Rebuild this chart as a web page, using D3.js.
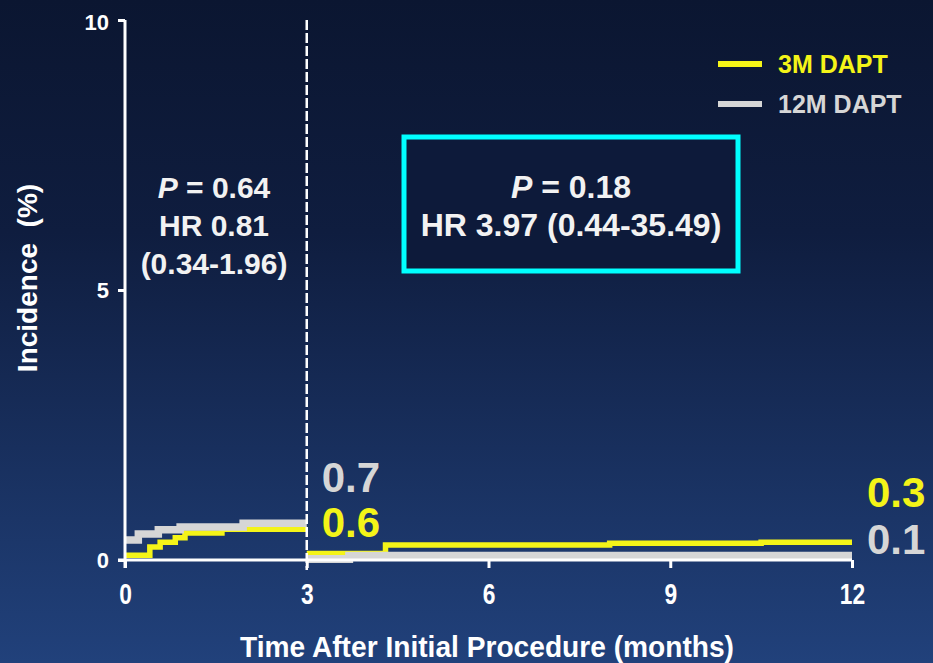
<!DOCTYPE html>
<html><head><meta charset="utf-8">
<script src="https://cdn.jsdelivr.net/npm/d3@7"></script>
<style>
html,body{margin:0;padding:0;background:#0d1a38;}
svg{display:block;}
</style></head>
<body>
<svg id="chart" width="933" height="663"></svg>
<script>
// ---- Data ----
const xTicks = [0, 3, 6, 9, 12];
const yTicks = [0, 5, 10];
// Landmark 0-3 months
const dapt3_early_t = [0, 0.41, 0.58, 0.83, 0.99, 1.6, 3];
const dapt3_early_v = [0.09, 0.24, 0.33, 0.41, 0.50, 0.57, 0.57];
const dapt12_early_t = [0, 0.22, 0.55, 0.91, 1.95, 3];
const dapt12_early_v = [0.37, 0.48, 0.56, 0.61, 0.68, 0.68];
// Landmark 3-12 months
const dapt3_late_t = [3, 4.3, 8, 10.5, 12];
const dapt3_late_v = [0.12, 0.28, 0.31, 0.33, 0.33];
const dapt12_late_t = [3, 3.7, 12];
const dapt12_late_v = [0.02, 0.08, 0.08];
const seriesNames = ["3M DAPT", "12M DAPT"];
const endLabelText = ["0.7", "0.6", "0.3", "0.1"];
const endLabelT = [3, 3, 12, 12];
const endLabelV = [0.68, 0.57, 0.33, 0.08];
const endLabelSeries = [1, 0, 0, 1];
const leftStats = ["P = 0.64", "HR 0.81", "(0.34-1.96)"];
const rightStats = ["P = 0.18", "HR 3.97 (0.44-35.49)"];
const yTitle = "Incidence  (%)";
const xTitle = "Time After Initial Procedure (months)";

const colors = ["#f4f418", "#d6d6d6"];
// pixel offsets of the end labels from their curve ends (layout only)
const endLabelOffsets = [-31, 8, -35, -2];

const svg = d3.select("#chart");
const W = 933, H = 663;

// background gradient
const defs = svg.append("defs");
const grad = defs.append("linearGradient").attr("id", "bg")
  .attr("x1", 0).attr("y1", 0).attr("x2", 0).attr("y2", 1);
grad.append("stop").attr("offset", "0%").attr("stop-color", "#0b1631");
grad.append("stop").attr("offset", "35%").attr("stop-color", "#0f1d3f");
grad.append("stop").attr("offset", "100%").attr("stop-color", "#21417b");
svg.append("rect").attr("width", W).attr("height", H).attr("fill", "url(#bg)");

const x = d3.scaleLinear().domain([0, 12]).range([125, 852]);
const y = d3.scaleLinear().domain([0, 10]).range([560, 20]);

const boldFont = "Arial, 'Liberation Sans', sans-serif";

// curves
const line = d3.line().x(d => x(d[0])).y(d => y(d[1])).curve(d3.curveStepAfter);
function zip(t, v) { return t.map((tt, i) => [tt, v[i]]); }
const curves = [
  {data: zip(dapt3_early_t, dapt3_early_v), s: 0, w: 5.5},
  {data: zip(dapt3_late_t, dapt3_late_v), s: 0, w: 5.5},
  {data: zip(dapt12_early_t, dapt12_early_v), s: 1, w: 7.5},
  {data: zip(dapt12_late_t, dapt12_late_v), s: 1, w: 8}
];
svg.append("g").selectAll("path").data(curves).join("path")
  .attr("d", d => line(d.data))
  .attr("fill", "none")
  .attr("stroke", d => colors[d.s])
  .attr("stroke-width", d => d.w);

// axes
const yAxis = d3.axisLeft(y).tickValues(yTicks).tickSize(7).tickPadding(9).tickFormat(d3.format("d"));
const gy = svg.append("g").attr("transform", `translate(${x(0)},0)`).call(yAxis);
gy.select(".domain").attr("d", `M0,${y(10)}V${y(0) + 8}`);
const xAxis = d3.axisBottom(x).tickValues(xTicks).tickSize(8).tickPadding(15).tickFormat(d3.format("d"));
const gx = svg.append("g").attr("transform", `translate(0,${y(0)})`).call(xAxis);
gx.select(".domain").attr("d", `M${x(0) - 7},0H${x(12)}`);
[gx, gy].forEach(g => {
  g.selectAll(".domain, .tick line").attr("stroke", "#ffffff").attr("stroke-width", 3);
});
gy.selectAll(".tick line").attr("x2", -7);
gy.selectAll("text").attr("fill", "#ffffff").attr("font-family", boldFont)
  .attr("font-weight", "bold").attr("font-size", 22);
gy.select(".tick:last-of-type text").attr("dy", "0.45em");
gx.selectAll("text").attr("fill", "#ffffff").attr("font-family", boldFont)
  .attr("font-weight", "bold").attr("font-size", 30)
  .attr("transform", "scale(0.76,1)");

// dashed landmark line
svg.append("line").attr("x1", x(3)).attr("x2", x(3)).attr("y1", y(10)).attr("y2", y(0) + 10)
  .attr("stroke", "#ffffff").attr("stroke-width", 2.5).attr("stroke-dasharray", "10,3");

// axis titles
svg.append("text").attr("transform", `translate(37,${278}) rotate(-90)`)
  .attr("text-anchor", "middle").attr("fill", "#ffffff")
  .attr("font-family", boldFont).attr("font-weight", "bold").attr("font-size", 28)
  .attr("xml:space", "preserve").style("white-space", "pre")
  .text(yTitle);
svg.append("text").attr("x", 487).attr("y", 657)
  .attr("text-anchor", "middle").attr("fill", "#ffffff")
  .attr("font-family", boldFont).attr("font-weight", "bold").attr("font-size", 30)
  .attr("textLength", 494).attr("lengthAdjust", "spacingAndGlyphs")
  .text(xTitle);

// stat text helper
function statLine(g, str, cx, by, size) {
  const t = g.append("text").attr("x", cx).attr("y", by).attr("text-anchor", "middle")
    .attr("fill", "#f2f2f2").attr("font-family", boldFont).attr("font-weight", "bold")
    .attr("font-size", size);
  if (str.startsWith("P ")) {
    t.append("tspan").attr("font-style", "italic").text("P");
    t.append("tspan").text(str.slice(1));
  } else {
    t.text(str);
  }
}
const gl = svg.append("g");
leftStats.forEach((s, i) => statLine(gl, s, 214, 198 + i * 38, 30));

// right stats box
svg.append("rect").attr("x", 404).attr("y", 137).attr("width", 334).attr("height", 134)
  .attr("fill", "#0d1a3a").attr("stroke", "#00ffff").attr("stroke-width", 5);
const gr = svg.append("g");
rightStats.forEach((s, i) => statLine(gr, s, 571, 198 + i * 38, 32));

// end labels
svg.append("g").selectAll("text").data(endLabelText).join("text")
  .attr("x", (d, i) => x(endLabelT[i]) + 15)
  .attr("y", (d, i) => y(endLabelV[i]) + endLabelOffsets[i])
  .attr("fill", (d, i) => colors[endLabelSeries[i]])
  .attr("font-family", boldFont).attr("font-weight", "bold").attr("font-size", 42)
  .text(d => d);

// legend
const lg = svg.append("g").attr("transform", "translate(718,64)");
seriesNames.forEach((n, i) => {
  const row = lg.append("g").attr("transform", `translate(0,${i * 40})`);
  row.append("line").attr("x1", 0).attr("x2", 44).attr("y1", 0).attr("y2", 0)
    .attr("stroke", colors[i]).attr("stroke-width", 6);
  row.append("text").attr("x", 60).attr("y", 0).attr("dy", "0.36em")
    .attr("fill", colors[i]).attr("font-family", boldFont).attr("font-weight", "bold")
    .attr("font-size", 25).text(n);
});
</script>
</body></html>
